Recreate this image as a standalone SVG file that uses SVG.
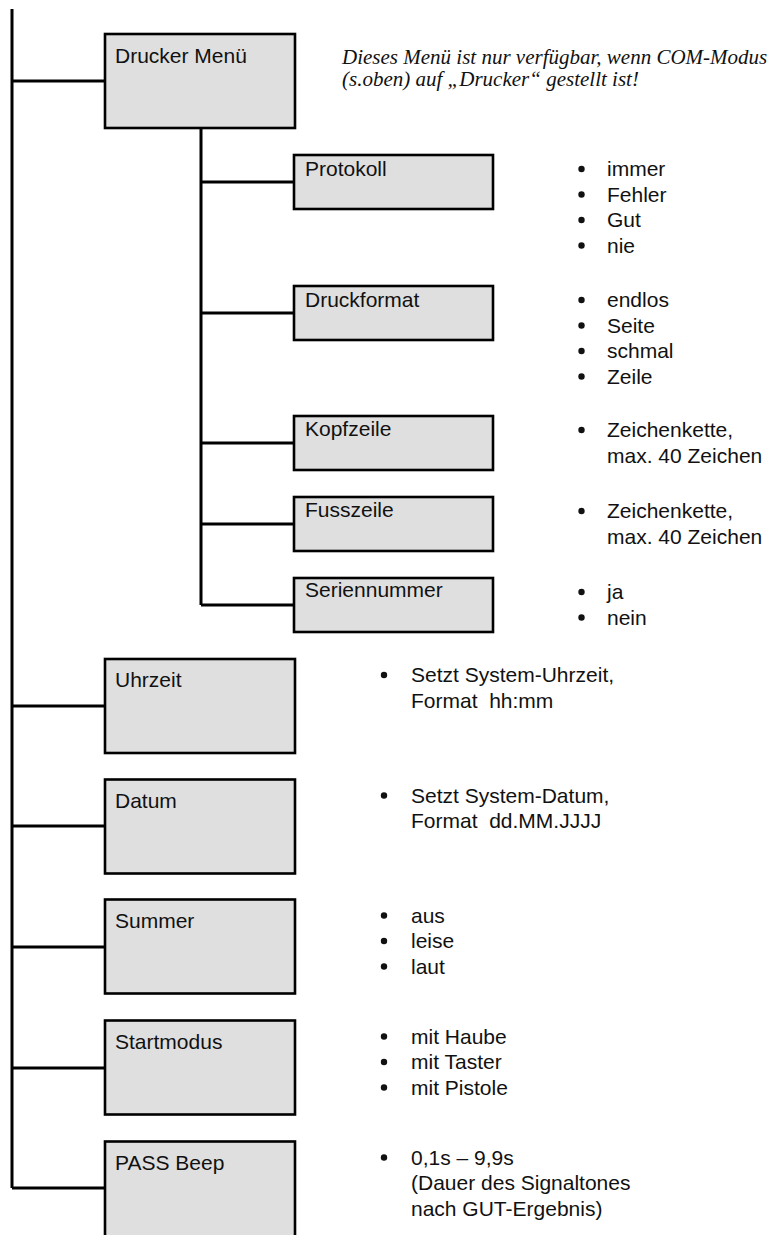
<svg xmlns="http://www.w3.org/2000/svg" width="778" height="1235" viewBox="0 0 778 1235">
<style>
.box{fill:#dfdfdf;stroke:#000;stroke-width:2.6}
.lbl{font-family:"Liberation Sans",Arial,sans-serif;font-size:21px;fill:#111}
.li{font-family:"Liberation Sans",Arial,sans-serif;font-size:21px;fill:#111;white-space:pre}
.note{font-family:"Liberation Serif","Times New Roman",serif;font-style:italic;font-size:21px;fill:#111}
.con{stroke:#000;stroke-width:3;fill:none}
.b{fill:#111}
</style>
<g id="connectors">
<path class="con" d="M12,9 V1188 M12,81 H105 M12,706 H105 M12,826 H105 M12,947 H105 M12,1068 H105 M12,1188 H105"/>
<path class="con" d="M201,128 V605 M201,182 H294 M201,313 H294 M201,443 H294 M201,524 H294 M201,605 H294"/>
</g>
<g id="drucker-menu"><rect class="box" x="105" y="34" width="190" height="94"/><text class="lbl" x="115" y="63">Drucker Menü</text></g>
<g id="note"><text class="note" x="342" y="64">Dieses Menü ist nur verfügbar, wenn COM-Modus</text><text class="note" x="342" y="86">(s.oben) auf „Drucker“ gestellt ist!</text></g>
<g id="protokoll"><rect class="box" x="294" y="155" width="199" height="54"/><text class="lbl" x="305" y="176">Protokoll</text></g>
<g id="druckformat"><rect class="box" x="294" y="286" width="199" height="54"/><text class="lbl" x="305" y="307">Druckformat</text></g>
<g id="kopfzeile"><rect class="box" x="294" y="416" width="199" height="54"/><text class="lbl" x="305" y="436">Kopfzeile</text></g>
<g id="fusszeile"><rect class="box" x="294" y="497" width="199" height="54"/><text class="lbl" x="305" y="517">Fusszeile</text></g>
<g id="seriennummer"><rect class="box" x="294" y="578" width="199" height="54"/><text class="lbl" x="305" y="597">Seriennummer</text></g>
<g id="uhrzeit"><rect class="box" x="105" y="659" width="190" height="94"/><text class="lbl" x="115" y="687">Uhrzeit</text></g>
<g id="datum"><rect class="box" x="105" y="779.5" width="190" height="94"/><text class="lbl" x="115" y="808">Datum</text></g>
<g id="summer"><rect class="box" x="105" y="899.5" width="190" height="94"/><text class="lbl" x="115" y="928">Summer</text></g>
<g id="startmodus"><rect class="box" x="105" y="1020.5" width="190" height="94"/><text class="lbl" x="115" y="1049">Startmodus</text></g>
<g id="pass-beep"><rect class="box" x="105" y="1141.5" width="190" height="120"/><text class="lbl" x="115" y="1170">PASS Beep</text></g>
<g id="list-protokoll">
<circle class="b" cx="581.5" cy="169" r="3.2"/><text class="li" x="607" y="176">immer</text>
<circle class="b" cx="581.5" cy="194.5" r="3.2"/><text class="li" x="607" y="201.5">Fehler</text>
<circle class="b" cx="581.5" cy="220" r="3.2"/><text class="li" x="607" y="227">Gut</text>
<circle class="b" cx="581.5" cy="245.5" r="3.2"/><text class="li" x="607" y="252.5">nie</text>
</g>
<g id="list-druckformat">
<circle class="b" cx="581.5" cy="300" r="3.2"/><text class="li" x="607" y="307">endlos</text>
<circle class="b" cx="581.5" cy="325.5" r="3.2"/><text class="li" x="607" y="332.5">Seite</text>
<circle class="b" cx="581.5" cy="351" r="3.2"/><text class="li" x="607" y="358">schmal</text>
<circle class="b" cx="581.5" cy="376.5" r="3.2"/><text class="li" x="607" y="383.5">Zeile</text>
</g>
<g id="list-kopfzeile">
<circle class="b" cx="581.5" cy="430" r="3.2"/><text class="li" x="607" y="437">Zeichenkette,</text>
<text class="li" x="607" y="462.5">max. 40 Zeichen</text>
</g>
<g id="list-fusszeile">
<circle class="b" cx="581.5" cy="511" r="3.2"/><text class="li" x="607" y="518">Zeichenkette,</text>
<text class="li" x="607" y="543.5">max. 40 Zeichen</text>
</g>
<g id="list-seriennummer">
<circle class="b" cx="581.5" cy="592" r="3.2"/><text class="li" x="607" y="599">ja</text>
<circle class="b" cx="581.5" cy="617.5" r="3.2"/><text class="li" x="607" y="624.5">nein</text>
</g>
<g id="list-uhrzeit">
<circle class="b" cx="384" cy="675" r="3.2"/><text class="li" x="411" y="682">Setzt System-Uhrzeit,</text>
<text class="li" x="411" y="707.5">Format  hh:mm</text>
</g>
<g id="list-datum">
<circle class="b" cx="384" cy="795.5" r="3.2"/><text class="li" x="411" y="802.5">Setzt System-Datum,</text>
<text class="li" x="411" y="828">Format  dd.MM.JJJJ</text>
</g>
<g id="list-summer">
<circle class="b" cx="384" cy="915.5" r="3.2"/><text class="li" x="411" y="922.5">aus</text>
<circle class="b" cx="384" cy="941" r="3.2"/><text class="li" x="411" y="948">leise</text>
<circle class="b" cx="384" cy="966.5" r="3.2"/><text class="li" x="411" y="973.5">laut</text>
</g>
<g id="list-startmodus">
<circle class="b" cx="384" cy="1036.5" r="3.2"/><text class="li" x="411" y="1043.5">mit Haube</text>
<circle class="b" cx="384" cy="1062" r="3.2"/><text class="li" x="411" y="1069">mit Taster</text>
<circle class="b" cx="384" cy="1087.5" r="3.2"/><text class="li" x="411" y="1094.5">mit Pistole</text>
</g>
<g id="list-pass-beep">
<circle class="b" cx="384" cy="1157.5" r="3.2"/><text class="li" x="411" y="1164.5">0,1s – 9,9s</text>
<text class="li" x="411" y="1190">(Dauer des Signaltones</text>
<text class="li" x="411" y="1215.5">nach GUT-Ergebnis)</text>
</g>
</svg>
